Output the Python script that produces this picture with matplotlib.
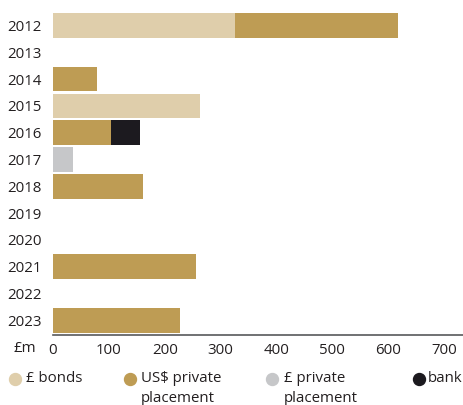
import matplotlib
matplotlib.use("Agg")
import matplotlib.pyplot as plt
from matplotlib.lines import Line2D
import numpy as np

plt.rcParams['font.family'] = ['Open Sans', 'DejaVu Sans']

years = ["2012", "2013", "2014", "2015", "2016", "2017", "2018", "2019", "2020", "2021", "2022", "2023"]
gbp_bonds = [325, 0, 0, 263, 0, 0, 0, 0, 0, 0, 0, 0]
usd_private = [292, 0, 79, 0, 104, 0, 161, 0, 0, 256, 0, 227]
gbp_private = [0, 0, 0, 0, 0, 36, 0, 0, 0, 0, 0, 0]
bank = [0, 0, 0, 0, 52, 0, 0, 0, 0, 0, 0, 0]
series_names = ["£ bonds", "US$ private\nplacement", "£ private\nplacement", "bank"]
colors = ["#DFCEAB", "#BE9C54", "#C6C7C9", "#1C1A1F"]
xticks = [0, 100, 200, 300, 400, 500, 600, 700]

W, H = 463, 405
fig = plt.figure(figsize=(W / 100, H / 100), dpi=100)
ax = fig.add_axes([53 / W, 1 - 335 / H, (463 - 53) / W, (335 - 12.1) / H])

y = np.arange(len(years))
left = np.zeros(len(years))
for vals, c in zip([gbp_bonds, usd_private, gbp_private, bank], colors):
    v = np.array(vals, dtype=float)
    ax.barh(y, v, left=left, height=0.92, color=c, linewidth=0)
    left += v

ax.set_xlim(0, 734)
ax.set_ylim(11.55, -0.5)
ax.set_yticks(y)
ax.set_yticklabels(years, fontsize=10.8, color="#231F20")
ax.set_xticks(xticks)
ax.set_xticklabels([str(t) for t in xticks], fontsize=10.8, color="#231F20")
ax.tick_params(axis="both", length=0)
ax.tick_params(axis="y", pad=8)
ax.tick_params(axis="x", pad=6)
for s in ["top", "right", "left"]:
    ax.spines[s].set_visible(False)
ax.spines["bottom"].set_color("#58595B")
ax.spines["bottom"].set_linewidth(1.2)

fig.text(13 / W, 1 - 348 / H, "£m", fontsize=10.8, color="#231F20", va="center", ha="left")

# legend
marker_x = [15, 130, 272, 419]
text_x = [26, 141, 284, 428]
ly = 379
for mx, tx, name, c in zip(marker_x, text_x, series_names, colors):
    fig.add_artist(Line2D([mx / W], [1 - ly / H], marker="o", markersize=8.6,
                          color=c, linestyle="none", transform=fig.transFigure))
    fig.text(tx / W, 1 - (ly - 7.5) / H, name, fontsize=10.8, color="#231F20",
             va="top", ha="left", linespacing=1.38)

fig.savefig("out.png", dpi=100)
